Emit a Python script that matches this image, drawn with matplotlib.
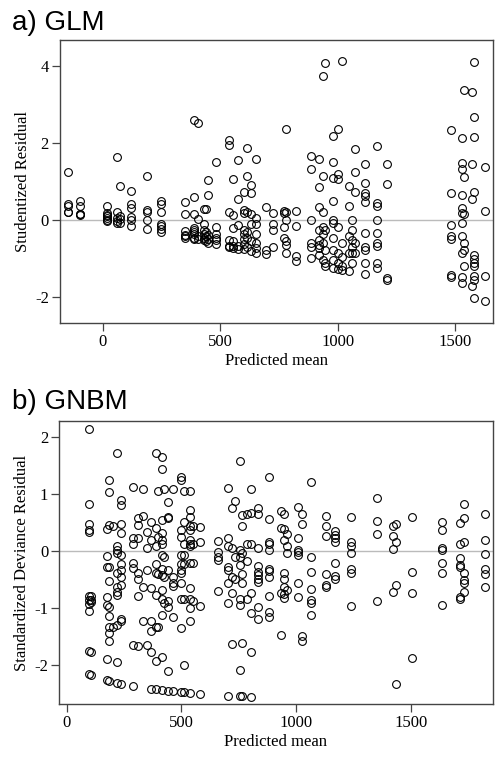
import matplotlib
matplotlib.use("Agg")
import matplotlib.pyplot as plt
import numpy as np

# ---- panel a) GLM : x position of each column, residuals in that column
glm_x_cols = [-150, -97, 20, 62, 74, 119, 189, 246, 350, 390, 406, 430, 440, 447,
              482, 536, 556, 576, 600, 613, 633, 653, 695, 727, 770, 780, 823, 886,
              923, 937, 948, 979, 1002, 1018, 1047, 1060, 1073, 1116, 1167, 1209,
              1483, 1529, 1537, 1572, 1583, 1628]
glm_y_cols = [
    [1.26, 0.42, 0.38, 0.22, 0.20],
    [0.50, 0.38, 0.17, 0.13, 0.15],
    [0.36, 0.18, 0.11, 0.05, 0.0, -0.03, 0.14],
    [1.65, 0.22, 0.05, -0.03, -0.08],
    [0.90, 0.10, 0.02, -0.08],
    [0.75, 0.42, 0.31, 0.08, 0.0, -0.14],
    [1.16, 0.27, 0.20, 0.0, -0.24],
    [0.50, 0.42, 0.22, -0.10, -0.16, -0.23, -0.31],
    [0.48, 0.16, -0.27, -0.38, -0.45, -0.42],
    [2.60, 0.60, 0.16, -0.20, -0.25, -0.35, -0.45, -0.50, -0.30],
    [2.53, 0.03, -0.50, -0.40],
    [0.28, -0.10, -0.25, -0.35, -0.45, -0.52],
    [0.28, -0.30, -0.42, -0.55],
    [1.05, 0.66, -0.38, -0.50, -0.58],
    [1.52, -0.17, -0.35, -0.45, -0.52, -0.63],
    [2.07, 1.94, 0.20, -0.52, -0.66, -0.70],
    [1.08, 0.14, -0.20, -0.55, -0.66, -0.72],
    [1.57, 0.55, -0.12, -0.66, -0.75],
    [0.72, 0.27, 0.18, -0.25, -0.35, -0.50, -0.62, -0.75],
    [1.87, 1.16, 0.22, -0.30, -0.45, -0.70],
    [0.92, 0.70, 0.15, -0.10, -0.55, -0.80],
    [1.58, 0.05, -0.10, -0.35, -0.60, -0.85, -0.72],
    [0.33, -0.77, -0.88],
    [0.18, -0.10, -0.25, -0.70],
    [0.23, 0.18, -0.18, -0.45],
    [2.36, 0.20, 0.0, -0.55, -0.65, -0.85],
    [0.23, -0.15, -0.94, -1.07],
    [1.66, 1.34, 0.0, -0.60, -0.70, -0.99],
    [1.58, 0.86, 0.35, -0.25, -0.52, -0.65, -0.72, -0.90],
    [3.75, 1.16, 0.22, -0.17, -0.35, -0.60, -1.03],
    [4.08, -0.25, -0.77, -1.12, -1.20],
    [2.19, 1.51, 1.09, 0.51, 0.0, -0.08, -0.45, -0.77, -1.03, -1.25],
    [2.36, 1.20, 1.08, -0.17, -0.85, -1.12, -1.28],
    [4.14, -0.95, -1.20, -1.30, -0.60],
    [0.89, 0.37, -0.42, -0.85, -1.33],
    [0.0, -0.25, -0.52, -0.70, -0.85, -1.12],
    [1.86, 1.26, 0.72, -0.60, -0.86],
    [1.45, 0.96, 0.70, 0.62, 0.48, -0.32, -0.77, -1.12, -1.39, -0.70],
    [1.93, 0.44, 0.36, 0.0, -0.34, -0.60, -0.68, -1.12, -1.25],
    [1.46, 0.93, -1.50, -1.55],
    [2.35, 0.70, -0.12, -0.42, -0.50, -1.42, -1.47],
    [2.14, 1.48, 1.33, 0.66, 0.31, 0.18, -0.06, -0.42, -0.85, -1.47, -1.64],
    [3.37, 1.11, 0.16, -0.58, -0.78, -1.20],
    [3.32, 1.46, 0.55, -1.70],
    [4.10, 2.69, 2.17, 0.72, -0.90, -1.00, -1.10, -1.18, -1.45, -1.55, -2.03],
    [1.39, 0.23, -1.45, -2.10],
]

# ---- panel b) GNBM
gnbm_x_cols = [99, 104, 174, 186, 200, 221, 235, 290, 309, 331, 348, 367, 389, 399,
               417, 424, 443, 465, 497, 513, 537, 549, 581, 661, 704, 719, 733, 755,
               762, 784, 802, 832, 883, 934, 948, 961, 1009, 1024, 1063, 1128, 1169,
               1239, 1351, 1420, 1435, 1506, 1634, 1714, 1732, 1823]
gnbm_y_cols = [
    [2.14, 0.82, 0.48, 0.37, 0.33, -0.79, -0.86, -0.92, -1.04, -1.74, -2.15],
    [-0.79, -0.86, -0.89, -1.76, -2.17],
    [-0.09, -0.27, 0.38, -0.80, -0.94, -1.88, -2.26],
    [1.24, 1.04, 0.45, -0.27, -0.52, -0.97, -1.13, -1.32, -1.43, -1.58, -2.28],
    [0.44, -1.32],
    [1.71, 0.09, 0.02, -0.04, -0.39, -0.62, -0.71, -0.77, -1.29, -1.94, -2.31],
    [0.89, 0.80, 0.47, 0.32, -0.07, -0.22, -0.33, -0.45, -0.59, -1.19, -1.23, -2.33],
    [1.12, 0.22, 0.13, -0.20, -0.30, -1.64, -2.36],
    [0.57, 0.45, 0.22, -0.39, -0.49, -0.79, -1.66],
    [1.08, 0.62, -0.62, -1.23],
    [0.34, 0.05, -0.33, -1.64],
    [0.51, 0.19, -0.65, -1.23, -1.39, -1.76, -2.41],
    [1.72, 0.41, 0.08, -0.22, -0.39, -0.77, -1.32, -1.93, -2.42],
    [1.05, 0.25, -0.40, -1.32],
    [1.65, 1.43, 0.54, 0.31, 0.19, 0.13, -0.07, -0.32, -0.42, -0.68, -0.84,
     -1.12, -1.86, -2.43],
    [1.08, -0.10, -0.45, -0.91],
    [0.85, 0.60, 0.58, -0.33, -0.87, -0.98, -2.09, -2.44],
    [1.08, -0.45, -0.55, -0.61, -1.15, -2.44],
    [1.30, 1.25, 0.37, 0.25, -0.07, -0.22, -0.33, -0.39, -0.56, -0.83, -1.35, -2.46],
    [1.05, 0.50, 0.13, -0.07, -0.22, -0.83, -1.99, -2.46],
    [1.05, 0.72, 0.60, 0.43, 0.37, 0.19, 0.13, 0.08, -0.20, -0.65, -0.83, -1.00,
     -1.23, -2.49],
    [0.43, 0.13, -0.20, -0.87],
    [0.42, 0.15, -0.96, -2.50],
    [0.18, -0.01, -0.10, -0.16, -0.69],
    [1.11, 0.22, 0.08, -0.27, -0.33, -0.56, -0.91, -2.53],
    [0.75, 0.06, -0.45, -0.74, -1.62],
    [0.88, -0.10, -0.48],
    [1.57, 0.02, -0.10, -0.24, -0.94, -0.83, -2.08, -2.53],
    [0.63, 0.43, -0.04, -0.40, -0.56, -1.60, -2.54],
    [0.65, 0.13, -0.17, -0.83],
    [1.08, 0.67, 0.12, -0.74, -1.09, -1.76, -2.55],
    [0.76, 0.65, 0.05, -0.26, -0.36, -0.42, -0.48, -0.54, -0.98, -1.18],
    [1.30, 0.56, 0.16, 0.13, 0.02, -0.32, -0.34, -0.45, -0.79, -1.06, -1.15],
    [0.70, 0.41, -0.74, -1.47],
    [0.65, 0.38, 0.19, -0.39, -0.48, -0.62, -0.75, -0.82],
    [0.29, 0.08, -0.04, -0.68],
    [0.77, 0.22, 0.02, -0.01, -0.07, -0.56, -0.80],
    [0.65, 0.47, -1.48, -1.58],
    [1.20, -0.11, -0.36, -0.66, -0.86, -0.91, -1.12],
    [0.62, 0.44, 0.27, -0.40, -0.59, -0.63],
    [0.35, 0.28, 0.22, 0.16, -0.20, -0.44, -0.49],
    [0.59, 0.15, 0.08, -0.04, -0.32, -0.38, -0.96],
    [0.93, 0.53, 0.29, -0.87],
    [0.44, 0.27, 0.03, -0.71],
    [0.47, 0.16, -0.59, -2.33],
    [0.60, -0.37, -0.74, -1.87],
    [0.51, 0.37, 0.06, 0.02, -0.20, -0.39, -0.95],
    [0.49, 0.13, -0.13, -0.24, -0.27, -0.80, -0.84],
    [0.82, 0.58, 0.15, -0.39, -0.51, -0.55, -0.72],
    [0.65, 0.19, -0.05, -0.31, -0.40, -0.62],
]


def flatten(xcols, ycols):
    xs = np.concatenate([[x] * len(ys) for x, ys in zip(xcols, ycols)])
    ys = np.concatenate(ycols)
    return xs, ys


glm_x, glm_y = flatten(glm_x_cols, glm_y_cols)
gnbm_x, gnbm_y = flatten(gnbm_x_cols, gnbm_y_cols)

serif = "Liberation Serif"
sans = "Liberation Sans"

fig = plt.figure(figsize=(5.01, 7.61), dpi=100)
ax1 = fig.add_axes([60 / 501, 1 - 323 / 761, 433 / 501, 283 / 761])
ax2 = fig.add_axes([59.3 / 501, 1 - 704.3 / 761, 433.4 / 501, 283.6 / 761])


def style(ax, xlim, ylim, yticks, ylabel):
    ax.axhline(0, color="#bbbbbb", lw=1.0, zorder=0)
    ax.set_xlim(*xlim)
    ax.set_ylim(*ylim)
    ax.set_xticks([0, 500, 1000, 1500])
    ax.set_yticks(yticks)
    ax.set_yticklabels([str(t) for t in yticks])
    for s in ax.spines.values():
        s.set_color("#444444")
        s.set_linewidth(1.0)
    ax.tick_params(direction="out", length=6, width=0.9, color="#444444",
                   labelsize=12, pad=2)
    for lab in ax.get_xticklabels() + ax.get_yticklabels():
        lab.set_fontfamily(serif)
    ax.set_xlabel("Predicted mean", fontfamily=serif, fontsize=12, labelpad=2)
    ax.set_ylabel(ylabel, fontfamily=serif, fontsize=12, labelpad=3)


ax1.plot(glm_x, glm_y, "o", mfc="none", mec="black", ms=5.6, mew=0.8)
style(ax1, (-182, 1662), (-2.67, 4.68), [-2, 0, 2, 4], "Studentized Residual")

ax2.plot(gnbm_x, gnbm_y, "o", mfc="none", mec="black", ms=5.6, mew=0.8)
style(ax2, (-32, 1856), (-2.68, 2.28), [-2, -1, 0, 1, 2],
      "Standardized Deviance Residual")

fig.text(12 / 501, 1 - 30 / 761, "a) GLM", fontfamily=sans, fontsize=20,
         va="baseline", ha="left")
fig.text(12 / 501, 1 - 409 / 761, "b) GNBM", fontfamily=sans, fontsize=20,
         va="baseline", ha="left")

fig.savefig("out.png", dpi=100)
